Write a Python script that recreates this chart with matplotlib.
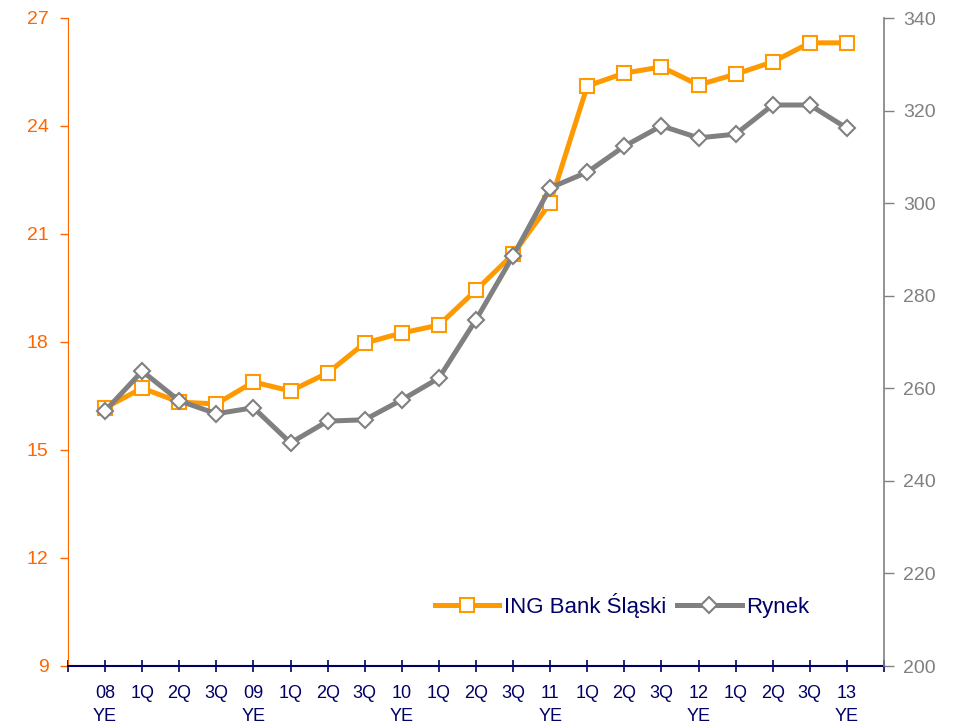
import matplotlib.pyplot as plt

plt.rcParams['font.family'] = ['Liberation Sans', 'DejaVu Sans']

# quarter labels along the bottom
quarters = ["08\nYE", "1Q", "2Q", "3Q", "09\nYE", "1Q", "2Q", "3Q", "10\nYE", "1Q", "2Q",
            "3Q", "11\nYE", "1Q", "2Q", "3Q", "12\nYE", "1Q", "2Q", "3Q", "13\nYE"]
# ING Bank Slaski (left axis)
ing = [16.17, 16.72, 16.33, 16.28, 16.89, 16.64, 17.14, 17.97, 18.25, 18.47, 19.44,
       20.44, 21.86, 25.11, 25.47, 25.64, 25.14, 25.44, 25.78, 26.31, 26.31]
# Rynek (right axis)
rynek = [255.1, 263.7, 257.3, 254.5, 255.8, 248.2, 252.9, 253.2, 257.5, 262.2, 274.8,
         288.6, 303.3, 306.7, 312.3, 316.7, 314.1, 314.9, 321.2, 321.2, 316.2]

orange = "#FF9900"
axis_orange = "#FF6600"
grey = "#808080"
navy = "#000066"

fig = plt.figure(figsize=(9.56, 7.25), dpi=100)
ax = fig.add_axes([68/956, 1 - 666/725, 816/956, 648/725])
ax2 = ax.twinx()

x = list(range(len(quarters)))
l1, = ax.plot(x, ing, color=orange, lw=3.6, marker="s", ms=10, mfc="white",
              mec=orange, mew=1.5, label="ING Bank Śląski")
l2, = ax2.plot(x, rynek, color=grey, lw=3.6, marker="D", ms=8.5, mfc="white",
               mec=grey, mew=1.5, label="Rynek")

ax.set_xlim(-1, 21)
ax.set_ylim(9, 27)
ax.set_yticks(range(9, 28, 3))
ax2.set_ylim(200, 340)
ax2.set_yticks(range(200, 341, 20))

ax.set_xticks(range(-1, 22))
ax.set_xticklabels([""] + quarters + [""])
ax.tick_params(axis="x", direction="inout", length=9, width=1.2, color=navy,
               labelcolor=navy, labelsize=13, pad=9)
ax.tick_params(axis="y", direction="out", length=6, width=1, color=axis_orange,
               labelcolor=axis_orange, labelsize=14, pad=8)
ax2.tick_params(axis="y", direction="out", length=7, width=1, color=grey,
                labelcolor=grey, labelsize=14, pad=7)
for lab in ax.get_xticklabels():
    lab.set_linespacing(1.45)

for a in (ax, ax2):
    for s in a.spines.values():
        s.set_visible(False)
ax.spines["left"].set_visible(True)
ax.spines["left"].set_color(axis_orange)
ax2.spines["right"].set_visible(True)
ax2.spines["right"].set_color(grey)
ax2.spines["right"].set_linewidth(1.2)
ax.spines["bottom"].set_visible(True)
ax.spines["bottom"].set_color(navy)
ax.spines["bottom"].set_linewidth(1.5)

leg = ax2.legend([l1, l2], ["ING Bank Śląski", "Rynek"], loc="center",
                 bbox_to_anchor=(0.679, 0.093), ncol=2, frameon=False,
                 fontsize=16, handlelength=2.9, handletextpad=0.2, columnspacing=0.5)
for t in leg.get_texts():
    t.set_color(navy)

fig.savefig("out.png", dpi=100)
